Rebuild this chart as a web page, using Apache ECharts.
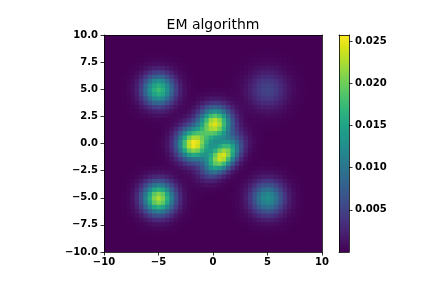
<!DOCTYPE html>
<html><head><meta charset="utf-8">
<script src="https://cdn.jsdelivr.net/npm/echarts@6/dist/echarts.min.js"></script>
<style>html,body{margin:0;padding:0;background:#fff}#c{width:432px;height:288px}</style>
</head><body><div id="c"></div>
<script>
// ---- data ----
const titleText = 'EM algorithm';
const axisRange = [-10, 10];
const gridCells = 50;
const xTickStep = 5;
const yTickStep = 2.5;
const colorbarTicks = [0.005, 0.010, 0.015, 0.020, 0.025];
const colorbarRange = [0, 0.0257];
// density components (centre, spread, peak height)
const compX    = [-5.0,  5.0, -5.0,  5.0, -1.8,  0.2,  0.85];
const compY    = [ 5.0,  5.0, -5.0, -5.0,  0.0,  1.9, -1.15];
const compSx   = [ 1.0,  1.2,  1.0,  1.05, 1.0,  1.0,  1.05];
const compSy   = [ 1.0,  1.2,  1.0,  1.05, 1.0,  1.0,  1.05];
const compRho  = [ 0.0,  0.0,  0.0,  0.0,  0.0,  0.0,  0.5];
const compPeak = [0.0175, 0.0052, 0.0225, 0.0128, 0.0250, 0.0238, 0.0238];
const viridis = ['#440154','#471365','#482475','#463480','#414487','#3b528b','#355f8d','#2f6c8e','#2a788e','#25848e','#21918c','#1e9c89','#22a884','#2fb47c','#44bf70','#5ec962','#7ad151','#9bd93c','#bddf26','#dfe318','#fde725'];

// ---- build cells ----
const cellSize = (axisRange[1] - axisRange[0]) / gridCells;
function density(x, y) {
  let s = 0;
  for (let k = 0; k < compX.length; k++) {
    const dx = (x - compX[k]) / compSx[k], dy = (y - compY[k]) / compSy[k], r = compRho[k];
    const q = (dx * dx + dy * dy - 2 * r * dx * dy) / (1 - r * r);
    s += compPeak[k] * Math.exp(-q / 2);
  }
  return s;
}
const cells = [];
for (let j = 0; j < gridCells; j++) {
  for (let i = 0; i < gridCells; i++) {
    const x = axisRange[0] + cellSize * (i + 0.5);
    const y = axisRange[0] + cellSize * (j + 0.5);
    cells.push([x, y, density(x, y)]);
  }
}
const fmtX = v => (v < 0 ? '\u2212' : '') + Math.abs(v);
const fmtY = v => (v < 0 ? '\u2212' : '') + Math.abs(v).toFixed(1);
const font = 'DejaVu Sans';
const lineStyle = { color: '#000', width: 0.8 };
const lbl = { color: '#000', fontFamily: font, fontSize: 10, fontWeight: 'bold' };
const tick = { show: true, length: 3.5, inside: false, lineStyle: lineStyle };
const plainLine = { show: true, onZero: false, lineStyle };
const off = { show: false };

const chart = echarts.init(document.getElementById('c'), null, { renderer: 'canvas' });
chart.setOption({
  animation: false,
  backgroundColor: '#fff',
  title: { text: titleText, left: 213, top: 18, padding: 0, textAlign: 'center',
    textStyle: { fontFamily: font, fontSize: 14, fontWeight: 'normal', color: '#000' } },
  grid: [
    { left: 104, top: 35, width: 218, height: 217, show: true, backgroundColor: viridis[0], borderWidth: 0 },
    { left: 339, top: 35, width: 10, height: 217 }
  ],
  xAxis: [
    { type: 'value', gridIndex: 0, min: axisRange[0], max: axisRange[1], interval: xTickStep, position: 'bottom', z: 10,
      axisLine: plainLine, axisTick: tick, splitLine: off,
      axisLabel: Object.assign({ margin: 5, formatter: fmtX }, lbl) },
    { type: 'value', gridIndex: 0, min: axisRange[0], max: axisRange[1], position: 'top', z: 10,
      axisLine: plainLine, axisTick: off, axisLabel: off, splitLine: off },
    { type: 'category', gridIndex: 1, data: ['c'], position: 'bottom', z: 10,
      axisLine: plainLine, axisTick: off, axisLabel: off },
    { type: 'category', gridIndex: 1, data: ['c'], position: 'top', z: 10,
      axisLine: plainLine, axisTick: off, axisLabel: off }
  ],
  yAxis: [
    { type: 'value', gridIndex: 0, min: axisRange[0], max: axisRange[1], interval: yTickStep, position: 'left', z: 10,
      axisLine: plainLine, axisTick: tick, splitLine: off,
      axisLabel: Object.assign({ margin: 6, formatter: fmtY }, lbl) },
    { type: 'value', gridIndex: 0, min: axisRange[0], max: axisRange[1], position: 'right', z: 10,
      axisLine: plainLine, axisTick: off, axisLabel: off, splitLine: off },
    { type: 'value', gridIndex: 1, min: colorbarRange[0], max: colorbarRange[1], position: 'right', z: 10,
      axisLine: plainLine, splitLine: off,
      axisTick: Object.assign({ customValues: colorbarTicks }, tick),
      axisLabel: Object.assign({ margin: 6, customValues: colorbarTicks, formatter: v => v.toFixed(3) }, lbl) },
    { type: 'value', gridIndex: 1, min: colorbarRange[0], max: colorbarRange[1], position: 'left', z: 10,
      axisLine: plainLine, splitLine: off, axisTick: off, axisLabel: off }
  ],
  visualMap: { type: 'continuous', show: false, seriesIndex: 0, dimension: 2,
    min: colorbarRange[0], max: colorbarRange[1], inRange: { color: viridis } },
  series: [
    { type: 'custom', xAxisIndex: 0, yAxisIndex: 0, data: cells, clip: true, silent: true,
      encode: { x: 0, y: 1 },
      renderItem: (params, api) => {
        const h = cellSize / 2;
        const p0 = api.coord([api.value(0) - h, api.value(1) + h]);
        const p1 = api.coord([api.value(0) + h, api.value(1) - h]);
        return { type: 'rect',
          shape: { x: p0[0], y: p0[1], width: p1[0] - p0[0] + 0.6, height: p1[1] - p0[1] + 0.6 },
          style: { fill: api.visual('color'), stroke: null } };
      } },
    { type: 'bar', xAxisIndex: 2, yAxisIndex: 2, data: [colorbarRange[1]], barWidth: '100%', silent: true,
      itemStyle: { color: new echarts.graphic.LinearGradient(0, 1, 0, 0,
        viridis.map((c, i) => ({ offset: i / (viridis.length - 1), color: c }))) } }
  ]
});
</script></body></html>
